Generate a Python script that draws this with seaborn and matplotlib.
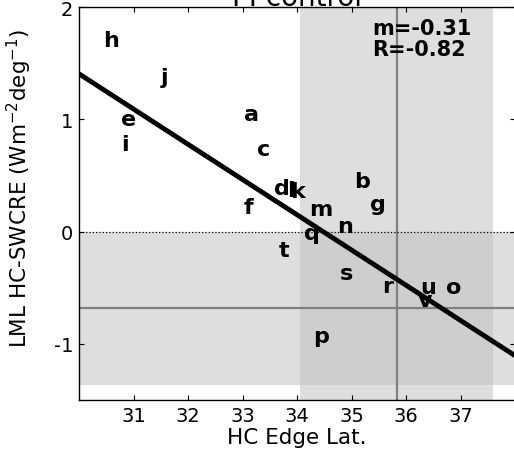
import matplotlib
matplotlib.use("Agg")
import matplotlib.pyplot as plt
import seaborn as sns
import pandas as pd

# ---- data ----
models = ["h", "j", "e", "i", "a", "c", "d", "l", "k", "f", "b",
          "g", "m", "n", "q", "t", "s", "r", "u", "o", "v", "p"]
hc_edge_lat = [30.45, 31.50, 30.77, 30.77, 33.03, 33.27, 33.58, 33.81, 33.87, 33.02, 35.05,
               35.34, 34.22, 34.73, 34.13, 33.66, 34.79, 35.57, 36.27, 36.73, 36.21, 34.30]
lml_swcre = [1.656, 1.324, 0.951, 0.723, 0.998, 0.678, 0.338, 0.317, 0.308, 0.166, 0.397,
             0.190, 0.145, -0.003, -0.062, -0.220, -0.418, -0.536, -0.545, -0.545, -0.664, -0.980]

obs_lat_mean, obs_lat_std = 35.83, 1.775
obs_swcre_mean, obs_swcre_std = -0.685, 0.685

stats_text = "m=-0.31\nR=-0.82"
title = "PI control"
xlabel = "HC Edge Lat."
ylabel = "LML HC-SWCRE (Wm$^{-2}$deg$^{-1}$)"
xticks = [31, 32, 33, 34, 35, 36, 37]
yticks = [-1, 0, 1, 2]
xlim = (30, 38)
ylim = (-1.5, 2)

df = pd.DataFrame({"model": models, "lat": hc_edge_lat, "swcre": lml_swcre})

sns.set_style("ticks")
plt.rcParams["font.family"] = ["DejaVu Sans"]
plt.rcParams["axes.unicode_minus"] = False
plt.rcParams["text.color"] = "black"
plt.rcParams["axes.labelcolor"] = "black"
plt.rcParams["xtick.color"] = "black"
plt.rcParams["ytick.color"] = "black"
plt.rcParams["axes.edgecolor"] = "black"

fig = plt.figure(figsize=(5.14, 4.56), dpi=100)
ax = fig.add_axes([79 / 514, 55 / 456, 436 / 514, 393 / 456])
ax.set_xlim(*xlim)
ax.set_ylim(*ylim)

# observational bands and lines
ax.axvspan(obs_lat_mean - obs_lat_std, obs_lat_mean + obs_lat_std,
           color="0.75", alpha=0.5, lw=0, zorder=0)
ax.axhspan(obs_swcre_mean - obs_swcre_std, obs_swcre_mean + obs_swcre_std,
           color="0.75", alpha=0.5, lw=0, zorder=0)
ax.axvline(obs_lat_mean, color="0.5", lw=1.6, zorder=1)
ax.axhline(obs_swcre_mean, color="0.5", lw=1.6, zorder=1)
ax.axhline(0, color="black", lw=0.9, ls=":", zorder=1)

# regression line across the full axis
sns.regplot(data=df, x="lat", y="swcre", scatter=False, ci=None, truncate=False,
            color="black", line_kws={"lw": 3.5, "zorder": 3}, ax=ax)

# model letters
for name, xv, yv in zip(df["model"], df["lat"], df["swcre"]):
    ax.text(xv, yv, name, fontsize=16, fontweight="bold", ha="left", va="baseline",
            color="black", zorder=4)

ax.text(35.38, 1.90, stats_text, fontsize=15, fontweight="bold", ha="left", va="top",
        linespacing=1.05, color="black", zorder=4)

ax.set_xlim(*xlim)
ax.set_ylim(*ylim)
ax.set_xticks(xticks)
ax.set_yticks(yticks)
ax.set_xticklabels([str(t) for t in xticks])
ax.set_yticklabels([str(t) for t in yticks])
ax.tick_params(direction="in", length=3.5, width=0.8, top=True, right=True,
               labelsize=14, pad=4, colors="black")
for sp in ax.spines.values():
    sp.set_visible(True)
    sp.set_color("black")
    sp.set_linewidth(1.0)

ax.set_xlabel(xlabel, fontsize=15.5, labelpad=2, color="black")
ax.set_ylabel(ylabel, fontsize=15.5, color="black")
ax.yaxis.set_label_coords(-0.103, 0.542)
ax.set_title(title, fontsize=20, pad=1.5, color="black")

fig.savefig("out.png", dpi=100)
